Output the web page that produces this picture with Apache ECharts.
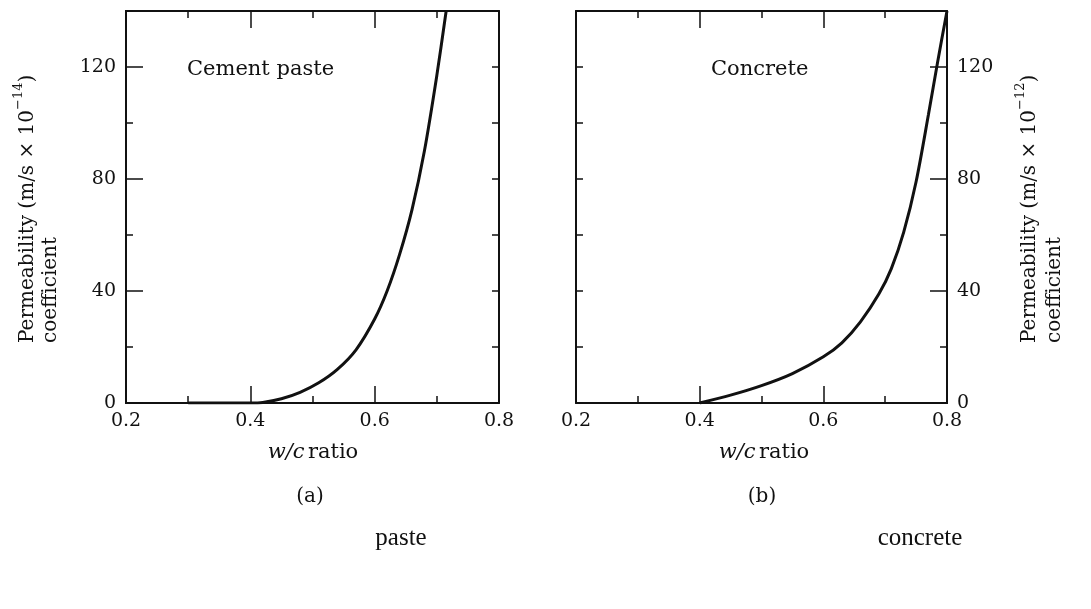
<!DOCTYPE html>
<html lang="en">
<head>
	<meta charset="UTF-8">
	<title>Permeability vs w/c ratio</title>
	<style>
		html, body { margin: 0; padding: 0; background: #fff; }
		#box { width: 1091px; height: 609px; }
	</style>
</head>
<body>
	<div id="box"></div>
	<script src="https://cdn.jsdelivr.net/npm/echarts@6/dist/echarts.min.js"></script>
	<script>
		// data
		var pasteX = [0.30, 0.40, 0.42, 0.45, 0.48, 0.51, 0.54, 0.57, 0.60, 0.62, 0.64, 0.66, 0.68, 0.70, 0.715];
		var pasteY = [0, 0, 0.2, 1.5, 3.8, 7.2, 12, 19, 30, 40, 53, 69, 90, 117, 140];
		var concreteX = [0.40, 0.45, 0.50, 0.55, 0.60, 0.63, 0.66, 0.69, 0.71, 0.73, 0.75, 0.77, 0.785, 0.80];
		var concreteY = [0, 2.8, 6.2, 10.5, 16.5, 21.5, 29, 39, 48, 61, 79, 103, 122, 140];
		var xTicks = [0.2, 0.4, 0.6, 0.8];
		var yTicks = [0, 40, 80, 120];
		var panelNames = ['Cement paste', 'Concrete'];
		var panelTags = ['(a)', '(b)'];
		var bottomWords = ['paste', 'concrete'];
		var exponents = ['\u221214', '\u221212'];

		var serif = 'DejaVu Serif';
		var ink = '#111';

		var myChart = echarts.init(document.getElementById('box'));

		function zip(xs, ys) {
			return xs.map(function (x, i) { return [x, ys[i]]; });
		}

		function xAxisFor(grid, pos) {
			return {
				type: 'value', gridIndex: grid, position: pos,
				min: xTicks[0], max: xTicks[xTicks.length - 1], interval: 0.2,
				axisLine: { show: true, onZero: false, lineStyle: { color: ink, width: 2 } },
				axisTick: { show: true, inside: true, length: 17, lineStyle: { color: ink, width: 1.5 } },
				minorTick: { show: true, splitNumber: 2, length: 7, lineStyle: { color: ink, width: 1.5 } },
				splitLine: { show: false },
				axisLabel: pos === 'bottom' ? {
					show: true, margin: 9, fontFamily: serif, fontSize: 19, color: ink,
					formatter: function (v) { return v.toFixed(1); }
				} : { show: false }
			};
		}

		function yAxisFor(grid, pos, major, labels) {
			return {
				type: 'value', gridIndex: grid, position: pos,
				min: yTicks[0], max: 140, interval: major ? 40 : 20,
				axisLine: { show: true, onZero: false, lineStyle: { color: ink, width: 2 } },
				axisTick: { show: true, inside: true, length: major ? 17 : 7, lineStyle: { color: ink, width: 1.5 } },
				splitLine: { show: false },
				axisLabel: labels ? {
					show: true, margin: 10, fontFamily: serif, fontSize: 19, color: ink,
					showMaxLabel: false
				} : { show: false }
			};
		}

		function sideTitle(x, y, exp) {
			return {
				type: 'text', x: x, y: y, rotation: Math.PI / 2,
				style: {
					text: '{t|Permeability (m/s \u00d7 10}{s|' + exp + '}{t|)}',
					align: 'left', verticalAlign: 'middle',
					rich: {
						t: { fontFamily: serif, fontSize: 20, fill: ink, verticalAlign: 'bottom', lineHeight: 26 },
						s: { fontFamily: serif, fontSize: 13, fill: ink, verticalAlign: 'top', lineHeight: 26 }
					}
				}
			};
		}

		function plainText(x, y, txt, size, family, align) {
			return {
				type: 'text', x: x, y: y,
				style: {
					text: txt, fontFamily: family, fontSize: size, fill: ink,
					align: align || 'center', verticalAlign: 'middle'
				}
			};
		}

		function ratioText(x, y) {
			return {
				type: 'text', x: x, y: y,
				style: {
					text: '{i|w/c} {t|ratio}', align: 'center', verticalAlign: 'middle',
					rich: {
						i: { fontFamily: serif, fontSize: 21, fontStyle: 'italic', fill: ink },
						t: { fontFamily: serif, fontSize: 21, fill: ink }
					}
				}
			};
		}

		function rotatedText(x, y, txt) {
			return {
				type: 'text', x: x, y: y, rotation: Math.PI / 2,
				style: { text: txt, fontFamily: serif, fontSize: 20, fill: ink, align: 'left', verticalAlign: 'middle' }
			};
		}

		var graphics = [
			sideTitle(25, 343, exponents[0]),
			rotatedText(51, 343, 'coefficient'),
			sideTitle(1027, 343, exponents[1]),
			rotatedText(1055, 343, 'coefficient'),
			plainText(187, 70, panelNames[0], 21, serif, 'left'),
			plainText(711, 70, panelNames[1], 21, serif, 'left'),
			ratioText(313, 453),
			ratioText(764, 453),
			plainText(310, 497, panelTags[0], 20, serif),
			plainText(762, 497, panelTags[1], 20, serif),
			plainText(401, 538, bottomWords[0], 25, 'Liberation Serif'),
			plainText(920, 538, bottomWords[1], 25, 'Liberation Serif')
		];

		var option = {
			backgroundColor: '#fff',
			animation: false,
			grid: [
				{ left: 126, top: 11, width: 373, height: 392 },
				{ left: 576, top: 11, width: 371, height: 392 }
			],
			xAxis: [
				xAxisFor(0, 'bottom'), xAxisFor(0, 'top'),
				xAxisFor(1, 'bottom'), xAxisFor(1, 'top')
			],
			yAxis: [
				yAxisFor(0, 'left', true, true),
				yAxisFor(0, 'left', false, false),
				yAxisFor(0, 'right', false, false),
				yAxisFor(1, 'right', true, true),
				yAxisFor(1, 'right', false, false),
				yAxisFor(1, 'left', false, false)
			],
			series: [
				{
					type: 'line', xAxisIndex: 0, yAxisIndex: 0,
					data: zip(pasteX, pasteY), smooth: 0.3, showSymbol: false,
					lineStyle: { color: ink, width: 3 }
				},
				{
					type: 'line', xAxisIndex: 2, yAxisIndex: 3,
					data: zip(concreteX, concreteY), smooth: 0.3, showSymbol: false,
					lineStyle: { color: ink, width: 3 }
				}
			],
			graphic: graphics
		};

		myChart.setOption(option);
	</script>
</body>
</html>
